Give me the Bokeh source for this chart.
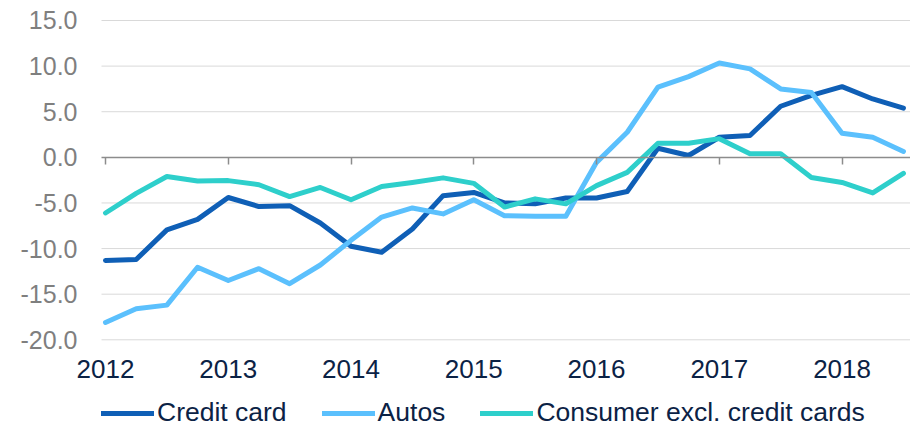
from bokeh.plotting import figure
from bokeh.models import (ColumnDataSource, FixedTicker, LinearAxis, Legend,
                          LegendItem, Range1d, NumeralTickFormatter)
from bokeh.embed import file_html
from bokeh.resources import INLINE

# ---- data (quarterly, 2012 Q1 .. 2018 Q3) ----
quarter_index = list(range(27))
years = ["2012", "2013", "2014", "2015", "2016", "2017", "2018"]
credit_card = [-11.3, -11.2, -7.95, -6.8, -4.4, -5.4, -5.3, -7.2, -9.75, -10.4,
               -7.85, -4.2, -3.85, -5.0, -5.1, -4.45, -4.45, -3.75, 1.0, 0.2,
               2.2, 2.4, 5.6, 6.8, 7.75, 6.4, 5.4]
autos = [-18.1, -16.6, -16.2, -12.05, -13.5, -12.2, -13.85, -11.8, -9.1, -6.55,
         -5.55, -6.2, -4.65, -6.4, -6.45, -6.45, -0.55, 2.75, 7.7, 8.85,
         10.35, 9.7, 7.5, 7.1, 2.65, 2.2, 0.65]
consumer_excl_cc = [-6.1, -3.95, -2.1, -2.6, -2.55, -3.0, -4.3, -3.3, -4.65, -3.2,
                    -2.75, -2.25, -2.85, -5.45, -4.55, -5.1, -3.1, -1.65, 1.55, 1.55,
                    2.05, 0.4, 0.4, -2.2, -2.75, -3.9, -1.75]
series_names = ["Credit card", "Autos", "Consumer excl. credit cards"]
y_ticks = [-20, -15, -10, -5, 0, 5, 10, 15]

colors = ["#0F5FB6", "#5BC0FD", "#2ECFCB"]
navy = "#0B2245"
grey = "#8C8C8C"
font = "Liberation Sans"

source = ColumnDataSource(dict(x=quarter_index, cc=credit_card, au=autos, co=consumer_excl_cc))

# plot-area extent in quarter units, plus room on the left for the value labels
x_first, x_last = -0.13, 26.23
px_per_quarter = 30.69
left_room = 101 / px_per_quarter
px_per_unit = 9.123
top_room = 20 / px_per_unit                        # room above the 15 line
y_bottom = min(y_ticks) - 88.7 / px_per_unit       # room under the -20 line for labels + legend

p = figure(width=910, height=428, output_backend="svg", toolbar_location=None,
           x_range=Range1d(x_first - left_room, x_last),
           y_range=Range1d(y_bottom, max(y_ticks) + top_room),
           min_border_left=0, min_border_right=0, min_border_top=0,
           min_border_bottom=0, x_axis_location=None, y_axis_location=None)
p.outline_line_color = None
p.background_fill_color = "white"
p.xgrid.grid_line_color = None
p.ygrid.grid_line_color = None

# horizontal grid lines across the plot area only
grid_y = [t for t in y_ticks if t != 0]
p.segment(x0=[x_first] * len(grid_y), x1=[x_last] * len(grid_y), y0=grid_y, y1=grid_y,
          line_color="#D9D9D9", line_width=1)

year_ticks = [4 * i for i in range(len(years))]

# zero line with tick marks
zero_axis = LinearAxis(ticker=FixedTicker(ticks=year_ticks), fixed_location=0,
                       bounds=(x_first, x_last))
zero_axis.axis_line_color = grey
zero_axis.axis_line_width = 1.5
zero_axis.major_tick_line_color = grey
zero_axis.major_tick_line_width = 1.5
zero_axis.major_tick_out = 7
zero_axis.major_tick_in = 0
zero_axis.minor_tick_line_color = None
zero_axis.major_label_text_color = None
p.add_layout(zero_axis, "below")

# year labels under the lowest grid line
xaxis = LinearAxis(ticker=FixedTicker(ticks=year_ticks), fixed_location=min(y_ticks),
                   major_label_overrides={t: y for t, y in zip(year_ticks, years)})
xaxis.axis_line_color = None
xaxis.major_tick_line_color = None
xaxis.minor_tick_line_color = None
xaxis.major_tick_out = 0
xaxis.major_tick_in = 0
xaxis.major_label_standoff = 20
xaxis.major_label_text_font = font
xaxis.major_label_text_font_size = "26px"
xaxis.major_label_text_color = navy
p.add_layout(xaxis, "below")

# value axis at the left edge of the plot area
yaxis = LinearAxis(ticker=FixedTicker(ticks=y_ticks), fixed_location=x_first,
                   formatter=NumeralTickFormatter(format="0.0"))
yaxis.axis_line_color = None
yaxis.major_tick_line_color = None
yaxis.minor_tick_line_color = None
yaxis.major_tick_out = 0
yaxis.major_tick_in = 0
yaxis.major_label_standoff = 24
yaxis.major_label_text_font = font
yaxis.major_label_text_font_size = "25px"
yaxis.major_label_text_color = "#7F7F7F"
p.add_layout(yaxis, "left")

renderers = []
for key, c in zip(["cc", "au", "co"], colors):
    r = p.line("x", key, source=source, line_color=c, line_width=5,
               line_join="round", line_cap="round")
    renderers.append(r)

legend = Legend(items=[LegendItem(label=n, renderers=[r]) for n, r in zip(series_names, renderers)],
                orientation="horizontal", location=(101, 0),
                glyph_width=53, glyph_height=20, label_standoff=3, spacing=35,
                padding=0, margin=0, border_line_color=None, background_fill_alpha=0,
                label_text_font=font, label_text_font_size="26.5px", label_text_color=navy)
p.add_layout(legend, "center")

open("out.html", "w").write(file_html(p, INLINE))
